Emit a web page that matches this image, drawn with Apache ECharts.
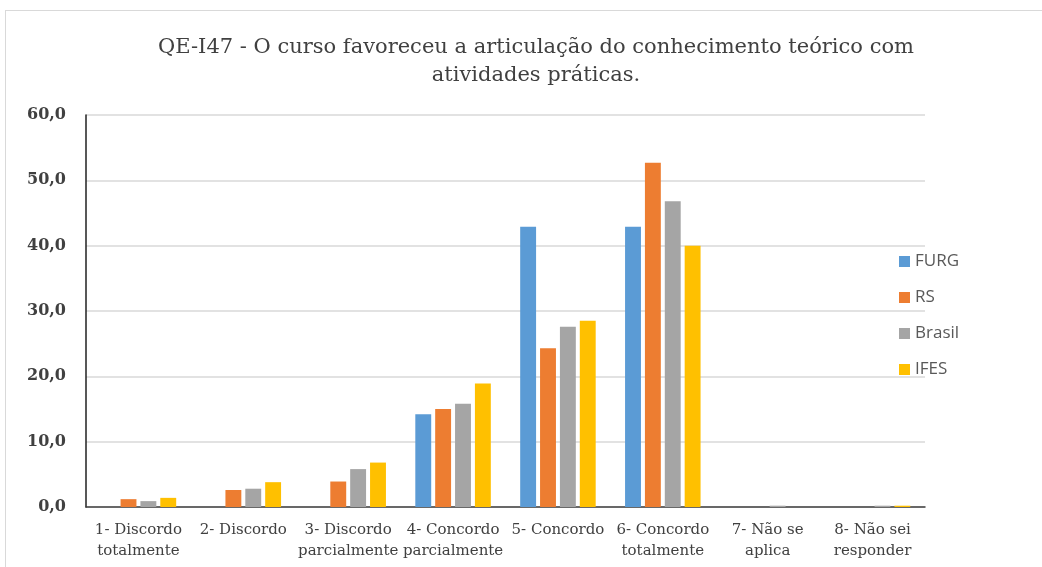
<!DOCTYPE html>
<html>
<head>
<meta charset="utf-8">
<script src="https://cdn.jsdelivr.net/npm/echarts@6/dist/echarts.min.js"></script>
<style>
  html, body { margin: 0; padding: 0; background: #fff; }
  #chart { width: 1042px; height: 567px; }
  .frame { position: absolute; left: 5px; top: 10px; width: 1040px; height: 560px; border: 1px solid #d9d9d9; box-sizing: border-box; pointer-events: none; }
</style>
</head>
<body>
<div id="chart"></div>
<div class="frame"></div>
<script>
// categorias do eixo x
var categorias = [
  '1- Discordo\ntotalmente',
  '2- Discordo',
  '3- Discordo\nparcialmente',
  '4- Concordo\nparcialmente',
  '5- Concordo',
  '6- Concordo\ntotalmente',
  '7- Não se\naplica',
  '8- Não sei\nresponder'
]
var furg = [0, 0, 0, 14.2, 42.9, 42.9, 0, 0]
var rs = [1.2, 2.6, 3.9, 15.0, 24.3, 52.7, 0, 0]
var brasil = [0.9, 2.8, 5.8, 15.8, 27.6, 46.8, 0.2, 0.2]
var ifes = [1.4, 3.8, 6.8, 18.9, 28.5, 40.0, 0, 0.2]

var myChart = echarts.init(document.getElementById('chart'))
var serif = '"DejaVu Serif", "Liberation Serif", serif'

function serie(nome, dados, cor) {
  return {
    name: nome,
    type: 'bar',
    data: dados,
    itemStyle: { color: cor },
    barGap: '25%',
    barCategoryGap: '28%'
  }
}

var option = {
  animation: false,
  title: {
    text: 'QE-I47 - O curso favoreceu a articulação do conhecimento teórico com\natividades práticas.',
    left: 531,
    top: 29,
    textAlign: 'center',
    textStyle: {
      fontFamily: serif,
      fontWeight: 'normal',
      fontSize: 21,
      lineHeight: 28,
      color: '#404040'
    }
  },
  legend: {
    orient: 'vertical',
    left: 894,
    top: 248,
    itemWidth: 11,
    itemHeight: 11,
    itemGap: 19,
    icon: 'rect',
    textStyle: {
      fontFamily: '"Open Sans", "DejaVu Sans", sans-serif',
      fontSize: 17,
      color: '#595959'
    },
    data: ['FURG', 'RS', 'Brasil', 'IFES']
  },
  grid: {
    left: 86,
    right: 117,
    top: 115,
    bottom: 60
  },
  xAxis: {
    type: 'category',
    data: categorias,
    axisLine: { lineStyle: { color: '#404040', width: 1.5 } },
    axisTick: { show: false },
    axisLabel: {
      interval: 0,
      fontFamily: serif,
      fontSize: 15,
      lineHeight: 21,
      color: '#404040',
      margin: 13
    }
  },
  yAxis: {
    type: 'value',
    min: 0,
    max: 60,
    interval: 10,
    axisLine: { show: true, lineStyle: { color: '#202020', width: 1.5 } },
    axisTick: { show: false },
    splitLine: { lineStyle: { color: '#d9d9d9', width: 1.5 } },
    axisLabel: {
      formatter: function (v) { return v.toFixed(1).replace('.', ',') },
      fontFamily: serif,
      fontWeight: 'bold',
      fontSize: 16,
      color: '#404040',
      margin: 20
    }
  },
  series: [
    serie('FURG', furg, '#5B9BD5'),
    serie('RS', rs, '#ED7D31'),
    serie('Brasil', brasil, '#A5A5A5'),
    serie('IFES', ifes, '#FFC000')
  ]
}

option && myChart.setOption(option)
</script>
</body>
</html>
